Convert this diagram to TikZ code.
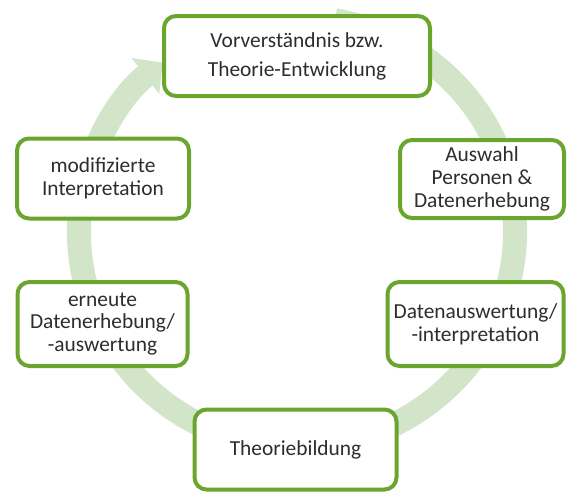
\documentclass[tikz,border=0pt]{standalone}
\usepackage{fontspec}
\setmainfont{Carlito}
\usepackage{tikz}
\usetikzlibrary{arrows.meta}

\definecolor{boxgreen}{RGB}{106,166,46}
\definecolor{ringgreen}{RGB}{211,229,201}
\definecolor{txtgrey}{RGB}{45,45,45}

\begin{document}
\begin{tikzpicture}[x=0.5pt,y=-0.5pt,
  stage/.style = {draw=boxgreen, line width=2pt, rounded corners=6pt, fill=white,
    align=center, inner sep=1pt, text=txtgrey,
    font=\fontsize{10.7}{11.3}\selectfont},
  ring/.style = {draw=ringgreen, line width=12pt,
    -{Triangle[length=11pt,width=22pt]}}]
\useasboundingbox (0,0) rectangle (568,493);
% circular arrow behind the boxes
\draw[ring] (297,232) ++(-80:218 and 215) arc[start angle=-80, end angle=232, x radius=218, y radius=215];
% the six stages
\node[stage, minimum width=133pt, minimum height=40pt, font=\fontsize{10.7}{14.5}\selectfont] (vor) at (297,56) {Vorverständnis bzw.\\Theorie-Entwicklung};
\node[stage, minimum width=82pt, minimum height=39pt] (aus) at (482,179) {Auswahl\\Personen \&\\Datenerhebung};
\node[stage, minimum width=88pt, minimum height=42pt] (dat) at (475.5,324) {Datenauswertung/\\-interpretation};
\node[stage, minimum width=101pt, minimum height=40pt] (the) at (295.5,449.5) {Theoriebildung};
\node[stage, minimum width=85pt, minimum height=42pt] (ern) at (102.5,324) {erneute\\Datenerhebung/\\-auswertung};
\node[stage, minimum width=86pt, minimum height=40pt] (mod) at (103,178.5) {modifizierte\\Interpretation};
\end{tikzpicture}
\end{document}
